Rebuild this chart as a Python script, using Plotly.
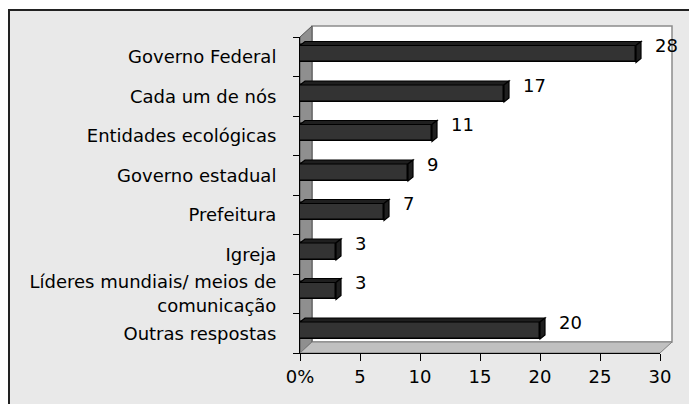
import plotly.graph_objects as go

# data
categories = ["Governo Federal", "Cada um de nós", "Entidades ecológicas",
              "Governo estadual", "Prefeitura", "Igreja",
              "Líderes mundiais/ meios de<br>comunicação", "Outras respostas"]
values = [28, 17, 11, 9, 7, 3, 3, 20]
x_tickvals = [0, 5, 10, 15, 20, 25, 30]
x_ticktext = ["0%", "5", "10", "15", "20", "25", "30"]

# the page puts the figure 8px in from the top-left corner
W, H = 697, 404
ML, MR, MT, MB = 292, 45, 29, 59
PW, PH = W - ML - MR, H - MT - MB

FONT = dict(family="DejaVu Sans", size=18, color="black")
BAR = "#333333"
FACE = "#1f1f1f"

idx = list(range(len(categories)))
bounds = [i - 0.5 for i in range(len(categories) + 1)]

# depth of the 3d box (pixels -> paper) and of the bars (pixels -> data)
wdx, wdy = 12 / PW, 11 / PH
bdx, bdy = 5 * 30 / PW, 4 * len(categories) / PH
off, wid = -0.285, 0.43


def px(x):
    return (x - ML) / PW


def py(y):
    return (H - MB - y) / PH


fig = go.Figure()
fig.add_trace(go.Bar(x=values, y=idx, orientation="h", width=wid, offset=off,
                     marker=dict(color=BAR, line=dict(color="black", width=1.5)),
                     hoverinfo="skip"))

shapes = []
# outer frame
shapes.append(dict(type="rect", xref="paper", yref="paper", layer="below",
                   x0=px(1), x1=px(720), y0=py(430), y1=py(2),
                   fillcolor="#e9e9e9", line=dict(color="#222222", width=2)))
# back wall
shapes.append(dict(type="rect", xref="paper", yref="paper", layer="below",
                   x0=wdx, x1=1 + wdx, y0=wdy, y1=1 + wdy,
                   fillcolor="white", line=dict(color="#8c8c8c", width=1.5)))
# left wall
shapes.append(dict(type="path", xref="paper", yref="paper", layer="below",
                   path=f"M 0,0 L {wdx},{wdy} L {wdx},{1 + wdy} L 0,1 Z",
                   fillcolor="#8f8f8f", line=dict(color="#555555", width=1)))
# floor
shapes.append(dict(type="path", xref="paper", yref="paper", layer="below",
                   path=f"M 0,0 L 1,0 L {1 + wdx},{wdy} L {wdx},{wdy} Z",
                   fillcolor="#c0c0c0", line=dict(color="#808080", width=1)))

# top and side faces of the bars
for i, v in zip(idx, values):
    t, b = i + off, i + off + wid
    shapes.append(dict(type="path", xref="x", yref="y", layer="above",
                       path=f"M 0,{t} L {v},{t} L {v + bdx},{t - bdy} L {bdx},{t - bdy} Z",
                       fillcolor=FACE, line=dict(color="black", width=1.2)))
    shapes.append(dict(type="path", xref="x", yref="y", layer="above",
                       path=f"M {v},{t} L {v + bdx},{t - bdy} L {v + bdx},{b - bdy} L {v},{b} Z",
                       fillcolor=FACE, line=dict(color="black", width=1.2)))

annotations = [dict(x=v, y=i, xref="x", yref="y", text=str(v), showarrow=False,
                    xanchor="left", xshift=17, yshift=11, font=FONT)
               for i, v in zip(idx, values)]

fig.update_layout(
    width=W, height=H,
    margin=dict(l=ML, r=MR, t=MT, b=MB, autoexpand=False),
    paper_bgcolor="white", plot_bgcolor="rgba(0,0,0,0)",
    font=FONT, showlegend=False, bargap=0,
    shapes=shapes, annotations=annotations,
)
fig.update_xaxes(range=[0, 30], tickvals=x_tickvals, ticktext=x_ticktext,
                 ticks="outside", ticklen=7, tickcolor="black",
                 showline=True, linecolor="black", linewidth=1,
                 showgrid=False, zeroline=False, fixedrange=True)
fig.update_yaxes(range=[len(categories) - 0.5, -0.5], tickvals=idx, ticktext=categories,
                 ticks="", ticklabelstandoff=19,
                 minor=dict(tickvals=bounds, ticks="outside", ticklen=6, tickcolor="black"),
                 showline=True, linecolor="black", linewidth=1,
                 showgrid=False, zeroline=False, fixedrange=True)

fig.write_html("out.html")
